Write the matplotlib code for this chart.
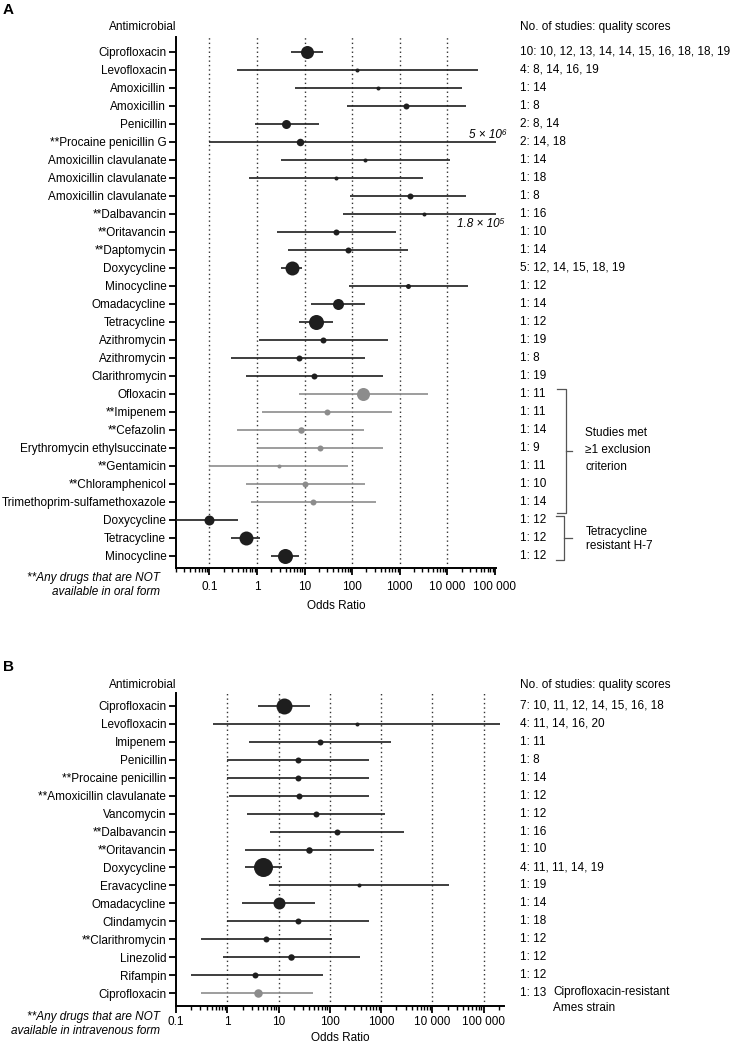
import numpy as np
import matplotlib
matplotlib.use('Agg')
import matplotlib.pyplot as plt
from matplotlib.transforms import blended_transform_factory
from matplotlib.ticker import LogLocator, NullFormatter, FixedLocator

plt.rcParams['font.family'] = ['Liberation Sans', 'DejaVu Sans']

# ---- panel A (oral) ----
drugs_a = ['Ciprofloxacin', 'Levofloxacin', 'Amoxicillin', 'Amoxicillin', 'Penicillin',
           '**Procaine penicillin G', 'Amoxicillin clavulanate', 'Amoxicillin clavulanate',
           'Amoxicillin clavulanate', '**Dalbavancin', '**Oritavancin', '**Daptomycin',
           'Doxycycline', 'Minocycline', 'Omadacycline', 'Tetracycline', 'Azithromycin',
           'Azithromycin', 'Clarithromycin', 'Ofloxacin', '**Imipenem', '**Cefazolin',
           'Erythromycin ethylsuccinate', '**Gentamicin', '**Chloramphenicol',
           'Trimethoprim-sulfamethoxazole', 'Doxycycline', 'Tetracycline', 'Minocycline']
or_a = [11.5, 124, 355, 1330, 4.1, 8.0, 186, 45, 1630, 3300, 46, 80, 5.5, 1480, 50, 17.7,
        25, 7.5, 15.8, 172, 30, 8.4, 21, 2.95, 10, 15.3, 0.1, 0.60, 3.9]
lo_a = [5.2, 0.39, 6.3, 77, 0.91, 0.1, 3.2, 0.69, 91, 63, 2.6, 4.4, 3.2, 85, 13.9, 7.8,
        1.09, 0.29, 0.59, 7.5, 1.3, 0.39, 1.0, 0.1, 0.59, 0.77, 0.01, 0.29, 1.95]
hi_a = [25, 45000, 20000, 24500, 20, 5e6, 11200, 3100, 24500, 1.8e5, 820, 1510, 8.8, 27000,
        183, 40, 560, 186, 445, 3900, 700, 174, 452, 83, 183, 310, 0.40, 1.18, 7.6]
scores_a = ['10: 10, 12, 13, 14, 14, 15, 16, 18, 18, 19', '4: 8, 14, 16, 19', '1: 14', '1: 8',
            '2: 8, 14', '2: 14, 18', '1: 14', '1: 18', '1: 8', '1: 16', '1: 10', '1: 14',
            '5: 12, 14, 15, 18, 19', '1: 12', '1: 14', '1: 12', '1: 19', '1: 8', '1: 19',
            '1: 11', '1: 11', '1: 14', '1: 9', '1: 11', '1: 10', '1: 14', '1: 12', '1: 12', '1: 12']
excluded_a = list(range(19, 26))
dot_px_a = [13, 4, 4, 6, 9, 7.5, 4, 4, 6, 4, 6, 6, 14, 5, 11, 15, 6, 6, 6, 13, 6, 6.5, 6, 4, 6,
            6, 10, 14, 15]

# ---- panel B (intravenous) ----
drugs_b = ['Ciprofloxacin', 'Levofloxacin', 'Imipenem', 'Penicillin', '**Procaine penicillin',
           '**Amoxicillin clavulanate', 'Vancomycin', '**Dalbavancin', '**Oritavancin',
           'Doxycycline', 'Eravacycline', 'Omadacycline', 'Clindamycin', '**Clarithromycin',
           'Linezolid', 'Rifampin', 'Ciprofloxacin']
or_b = [12.8, 345, 64, 24, 24, 25, 54, 139, 40, 5.0, 367, 10, 24, 5.6, 17.2, 3.4, 3.9]
lo_b = [3.9, 0.52, 2.6, 1.0, 1.0, 1.07, 2.4, 6.8, 2.2, 2.2, 6.5, 1.9, 1.0, 0.31, 0.81, 0.20, 0.31]
hi_b = [42, 211000, 1590, 570, 570, 570, 1200, 2800, 740, 11.9, 21400, 51, 580, 108, 384, 75, 46]
scores_b = ['7: 10, 11, 12, 14, 15, 16, 18', '4: 11, 14, 16, 20', '1: 11', '1: 8', '1: 14',
            '1: 12', '1: 12', '1: 16', '1: 10', '4: 11, 11, 14, 19', '1: 19', '1: 14', '1: 18',
            '1: 12', '1: 12', '1: 12', '1: 13']
excluded_b = [16]
dot_px_b = [16, 4, 6, 6, 6, 6, 6, 6, 6.5, 19, 4, 12, 6, 6, 6.5, 6, 8.5]

tick_vals = [0.1, 1, 10, 100, 1000, 10000, 100000]
tick_labels = ['0.1', '1', '10', '100', '1000', '10 000', '100 000']

W, H = 732, 1045
fig = plt.figure(figsize=(W / 100, H / 100), dpi=100)
DARK = '#1e1e1e'
GREY = '#8c8c8c'
FS = 8.5


def box(l, t, r, b):
    return [l / W, 1 - b / H, (r - l) / W, (b - t) / H]


def forest(ax, names, est, lo, hi, dots, grey_rows, xlim, ylim, grid, tpad, lpad):
    n = len(names)
    for i in range(n):
        c = GREY if i in grey_rows else DARK
        ms = dots[i] * 0.72
        ax.errorbar([est[i]], [i], xerr=[[est[i] - lo[i]], [hi[i] - est[i]]], fmt='o',
                    color=c, ms=ms, mew=0, elinewidth=1.2, capthick=1.2,
                    capsize=max(4.0, ms * 0.95), zorder=3)
    for g in grid:
        ax.axvline(g, color='#333333', lw=1.0, ls=(0, (1, 2.2)), zorder=1)
    ax.set_xscale('log')
    ax.set_xlim(*xlim)
    ax.set_ylim(*ylim)
    ax.set_yticks(range(n))
    ax.set_yticklabels(names, fontsize=FS)
    ax.xaxis.set_major_locator(FixedLocator(tick_vals))
    ax.set_xticklabels(tick_labels, fontsize=FS)
    ax.xaxis.set_minor_locator(LogLocator(base=10, subs=np.arange(2, 10), numticks=30))
    ax.xaxis.set_minor_formatter(NullFormatter())
    ax.tick_params(axis='y', length=5, width=1.3, pad=2)
    ax.tick_params(axis='x', which='major', length=5, width=1.3, pad=tpad)
    ax.tick_params(axis='x', which='minor', length=3, width=1.0)
    for s in ['top', 'right']:
        ax.spines[s].set_visible(False)
    for s in ['left', 'bottom']:
        ax.spines[s].set_linewidth(1.4)
    ax.set_xlabel('Odds Ratio', fontsize=FS, labelpad=lpad)


# panel A
axA = fig.add_axes(box(176, 37, 496, 568))
forest(axA, drugs_a, or_a, lo_a, hi_a, dot_px_a, excluded_a, (0.02, 1.05e5), (28.67, -0.83),
       tick_vals[:-1], 4.5, 5)
# panel B
axB = fig.add_axes(box(176, 693, 504, 1006))
forest(axB, drugs_b, or_b, lo_b, hi_b, dot_px_b, excluded_b, (0.1, 2.5e5), (16.72, -0.72),
       tick_vals[1:], 2.5, 2.5)

# headers, scores
for ax, scores, top_px in [(axA, scores_a, 27), (axB, scores_b, 685)]:
    tr = blended_transform_factory(fig.transFigure, ax.transData)
    for i, s in enumerate(scores):
        ax.text(520 / W, i, s, transform=tr, fontsize=FS, va='center', ha='left', clip_on=False)
    fig.text(520 / W, 1 - top_px / H, 'No. of studies: quality scores', fontsize=FS, va='center')
    fig.text(176 / W, 1 - top_px / H, 'Antimicrobial', fontsize=FS, va='center', ha='right')

fig.text(3 / W, 1 - 10 / H, 'A', fontsize=11, fontweight='bold', va='center')
fig.text(3 / W, 1 - 667 / H, 'B', fontsize=11, fontweight='bold', va='center')

# out-of-range upper limits
fig.text(507 / W, 1 - 135 / H, '5 × 10⁶', fontsize=FS, style='italic', ha='right', va='center')
fig.text(505 / W, 1 - 224 / H, '1.8 × 10⁵', fontsize=FS, style='italic', ha='right', va='center')

# footnotes
fig.text(160 / W, 1 - 585 / H, '**Any drugs that are NOT\navailable in oral form', fontsize=FS,
         style='italic', ha='right', va='center', linespacing=1.2)
fig.text(160 / W, 1 - 1024 / H, '**Any drugs that are NOT\navailable in intravenous form',
         fontsize=FS, style='italic', ha='right', va='center', linespacing=1.2)

# brackets panel A
trA = blended_transform_factory(fig.transFigure, axA.transData)


def bracket(y0, y1, x, stub, notch):
    xs = [(x - stub) / W, x / W, x / W, (x - stub) / W]
    ys = [y0, y0, y1, y1]
    axA.plot(xs, ys, transform=trA, color='#555555', lw=0.9, clip_on=False)
    ym = (y0 + y1) / 2
    axA.plot([x / W, (x + notch) / W], [ym, ym], transform=trA, color='#555555', lw=0.9,
             clip_on=False)


bracket(18.7, 25.6, 566, 9, 6)
bracket(25.8, 28.2, 564, 8, 8)
fig.text(585 / W, 1 - 450 / H, 'Studies met\n≥1 exclusion\ncriterion', fontsize=FS, va='center',
         linespacing=1.55)
fig.text(586 / W, 1 - 539 / H, 'Tetracycline\nresistant H-7', fontsize=FS, va='center',
         linespacing=1.3)
fig.text(553 / W, 1 - 1000 / H, 'Ciprofloxacin-resistant\nAmes strain', fontsize=FS, va='center',
         linespacing=1.4)

fig.savefig('out.png', dpi=100)
